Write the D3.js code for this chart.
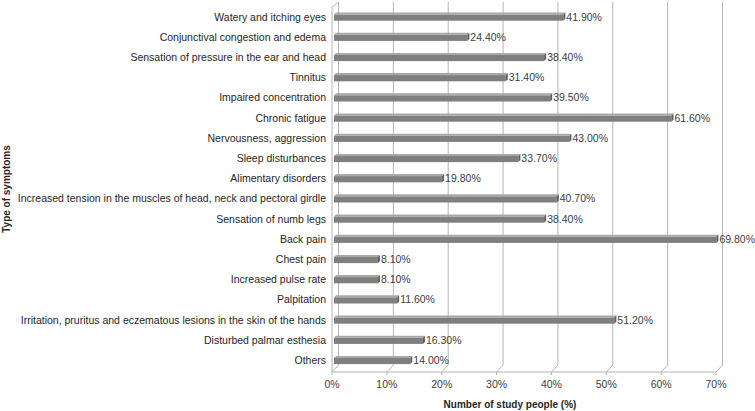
<!DOCTYPE html>
<html><head><meta charset="utf-8">
<script src="https://cdn.jsdelivr.net/npm/d3@7"></script>
<style>body{margin:0;background:#fff}svg{display:block;font-family:"Liberation Sans",Arial,sans-serif}</style>
</head><body><svg id="c" width="755" height="411"></svg>
<script>
const categories = [
  "Watery and itching eyes",
  "Conjunctival congestion and edema",
  "Sensation of pressure in the ear and head",
  "Tinnitus",
  "Impaired concentration",
  "Chronic fatigue",
  "Nervousness, aggression",
  "Sleep disturbances",
  "Alimentary disorders",
  "Increased tension in the muscles of head, neck and pectoral girdle",
  "Sensation of numb legs",
  "Back pain",
  "Chest pain",
  "Increased pulse rate",
  "Palpitation",
  "Irritation, pruritus and eczematous lesions in the skin of the hands",
  "Disturbed palmar esthesia",
  "Others"
];
const values = [41.9, 24.4, 38.4, 31.4, 39.5, 61.6, 43.0, 33.7, 19.8, 40.7, 38.4, 69.8, 8.1, 8.1, 11.6, 51.2, 16.3, 14.0];
const ticks = [0, 10, 20, 30, 40, 50, 60, 70];
const xTitle = "Number of study people (%)";
const yTitle = "Type of symptoms";

const svg = d3.select("#c");
const DX = 6.5, DY = -7;
const floorY = 372;
const x = d3.scaleLinear().domain([0, 70]).range([332, 716]);
const y = d3.scaleBand().domain(categories).range([6.4, 370]).padding(0);
const grid = "#b4b4b4";
const FS = 10.5;

// left wall
const g = svg.append("g").attr("stroke", grid).attr("fill", "none").attr("stroke-width", 1);
g.append("path").attr("d", `M${x(0)},${floorY}V7L${x(0)+DX},2V${floorY+DY}`);
// back gridlines + floor slants
ticks.forEach(t => {
  const xf = x(t), xb = x(t) + DX;
  if (t > 0) g.append("line").attr("x1", xb).attr("x2", xb).attr("y1", 2).attr("y2", floorY + DY);
  g.append("line").attr("x1", xf).attr("y1", floorY).attr("x2", xb).attr("y2", floorY + DY);
  g.append("line").attr("x1", xf).attr("x2", xf).attr("y1", floorY).attr("y2", floorY + 3);
});
g.append("line").attr("x1", x(0)).attr("x2", x(70)).attr("y1", floorY).attr("y2", floorY);

// bars
const bars = svg.append("g");
categories.forEach((c, i) => {
  const v = values[i];
  const yc = y(c) + y.bandwidth() / 2;
  const x0 = x(0) + 2, x1 = x(v) + 1.5;
  const t = yc - 2, b = yc + 4.2, d = 2;
  bars.append("rect").attr("x", x0).attr("y", t).attr("width", x1 - x0).attr("height", b - t).attr("fill", "#7f7f7f");
  bars.append("path").attr("d", `M${x0},${t}L${x0+d},${t-d}H${x1+d}L${x1},${t}Z`).attr("fill", "#a8a8a8");
  bars.append("path").attr("d", `M${x1},${t}L${x1+d},${t-d}V${b-d}L${x1},${b}Z`).attr("fill", "#5e5e5e");
  bars.append("text").attr("x", x1 + 3).attr("y", yc + 4).attr("font-size", FS).attr("fill", "#404040")
    .text(v.toFixed(2) + "%");
  svg.append("text").attr("x", 326).attr("y", yc + 4).attr("text-anchor", "end").attr("font-size", FS)
    .attr("fill", "#262626").text(c);
});

// tick labels
ticks.forEach(t => {
  svg.append("text").attr("x", x(t)).attr("y", 388).attr("text-anchor", "middle").attr("font-size", FS)
    .attr("fill", "#404040").text(t + "%");
});

// titles
svg.append("text").attr("x", 510).attr("y", 408).attr("text-anchor", "middle").attr("font-size", 10)
  .attr("font-weight", "bold").attr("fill", "#262626").text(xTitle);
svg.append("text").attr("transform", "translate(10,189) rotate(-90)").attr("text-anchor", "middle")
  .attr("font-size", 10).attr("font-weight", "bold").attr("fill", "#262626").text(yTitle);
</script></body></html>
